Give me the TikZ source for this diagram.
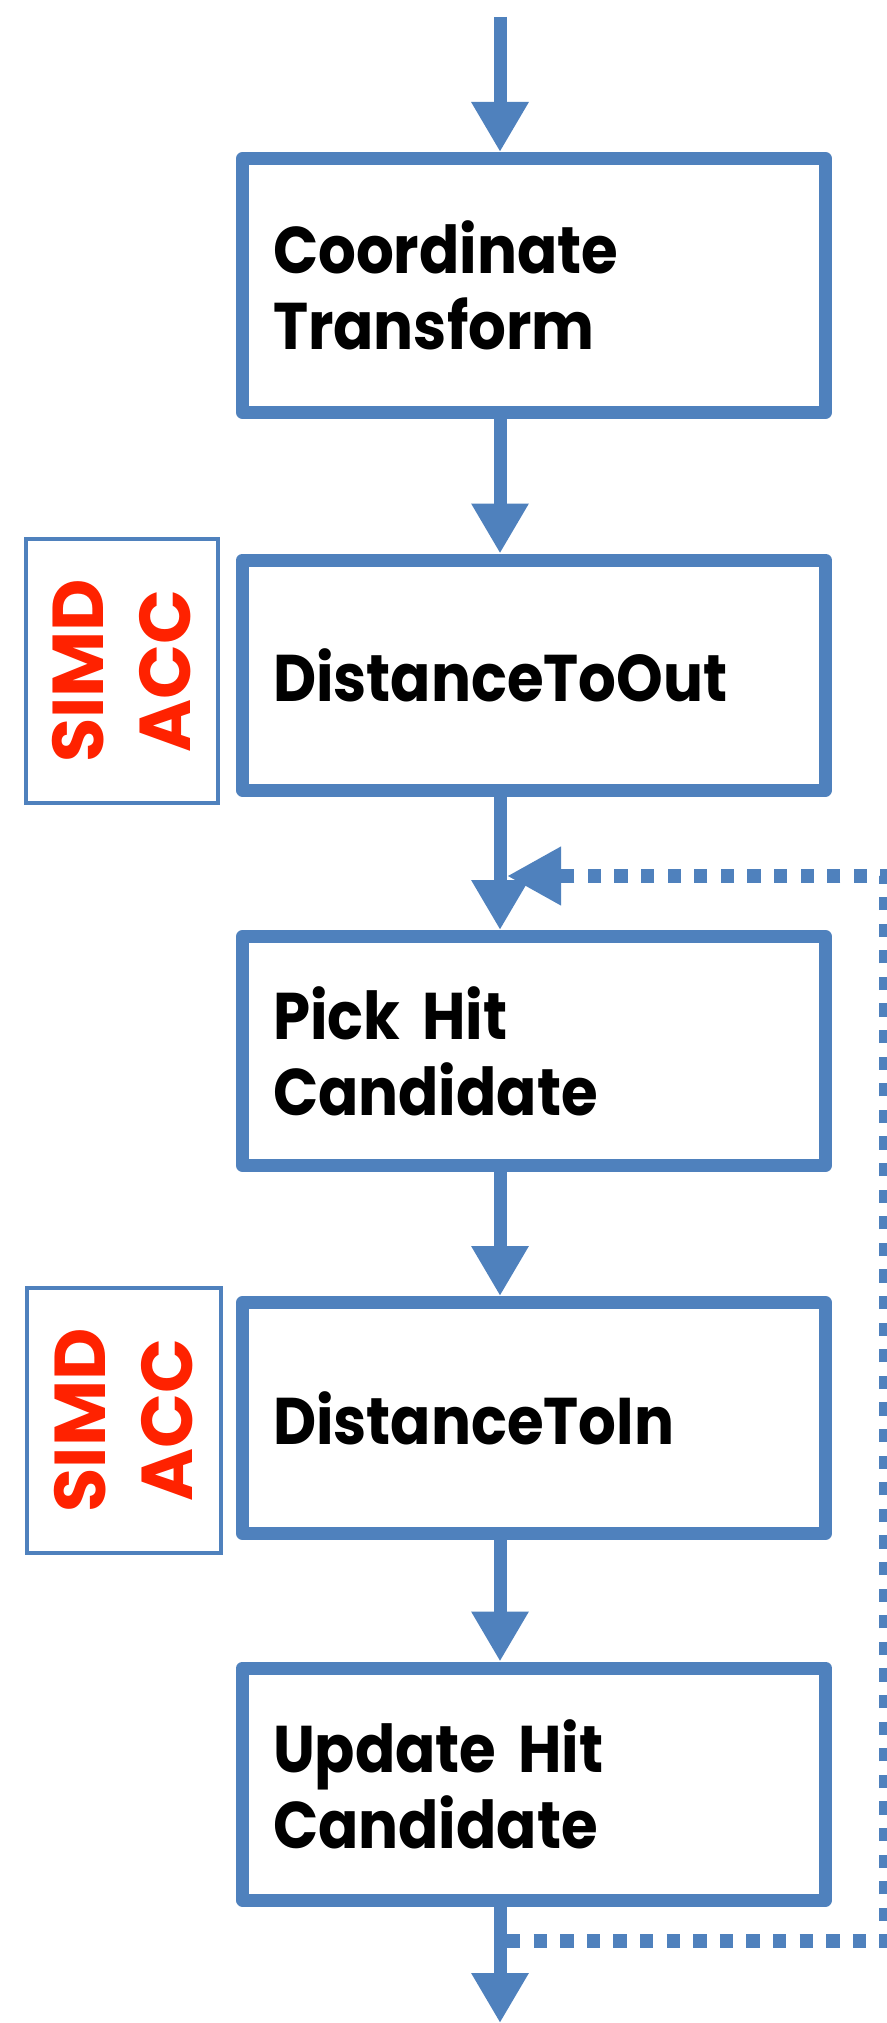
\documentclass[tikz,border=0pt]{standalone}
\usepackage{fontspec}
\setmainfont{Poppins}[FakeStretch=0.9]
\newfontfamily\accfont{Poppins}
\usetikzlibrary{arrows.meta}
\definecolor{ppblue}{RGB}{79,129,189}
\definecolor{accred}{RGB}{255,34,0}

\begin{document}
\begin{tikzpicture}
[
  x=1pt, y=-1pt,
  proc/.style={draw=ppblue,line width=13pt,fill=white,line join=round,minimum width=583pt,
    text width=522pt,inner xsep=30.5pt,align=left,font=\fontsize{66}{76}\selectfont\bfseries},
  acc/.style={draw=ppblue,line width=4pt,fill=white,rotate=90,minimum width=264pt,minimum height=192pt,
    inner sep=0pt,align=center,text=accred,font=\accfont\fontsize{72}{87}\selectfont\bfseries},
  flow/.style={draw=ppblue,line width=13pt,-{Triangle[length=50pt,width=54pt]}},
  back/.style={draw=ppblue,line width=13.3pt,dash pattern=on 13.3pt off 13.3pt,
    -{Triangle[length=54pt,width=55pt]}}
]

\useasboundingbox[fill=white] (0,0) rectangle (886,2023);

% pipeline
\node[proc,minimum height=254pt] (xform) at (534,285.5) {Coordinate\\Transform};
\node[proc,minimum height=230pt] (dout) at (534,675) {DistanceToOut};
\node[proc,minimum height=229pt] (pick) at (534,1051) {Pick Hit\\Candidate};
\node[proc,minimum height=231pt] (din) at (534,1418) {DistanceToIn};
\node[proc,minimum height=232pt] (upd) at (534,1784) {Update Hit\\Candidate};

% accelerated steps
\node[acc,minimum width=264pt] (acc1) at (122,671) {SIMD\\ACC};
\node[acc,minimum width=265pt,minimum height=194pt] (acc2) at (124,1420.5) {SIMD\\ACC};

% arrows
\coordinate (spine) at (500,0);
\coordinate (top) at (500,17);
\coordinate (bottom) at (500,2023);

\draw[flow] (top) -- (xform.north -| spine);
\draw[flow] (xform.south -| spine) -- (dout.north -| spine);
\draw[flow] (dout.south -| spine) -- (pick.north -| spine);
\draw[flow] (pick.south -| spine) -- (din.north -| spine);
\draw[flow] (din.south -| spine) -- (upd.north -| spine);
\draw[flow] (upd.south -| spine) -- (bottom);

% loop back
\coordinate (loopout) at (507,1941);
\coordinate (loopin) at (507,876);
\draw[back] (loopout) -- ++(379,0) |- (loopin);

\end{tikzpicture}
\end{document}
